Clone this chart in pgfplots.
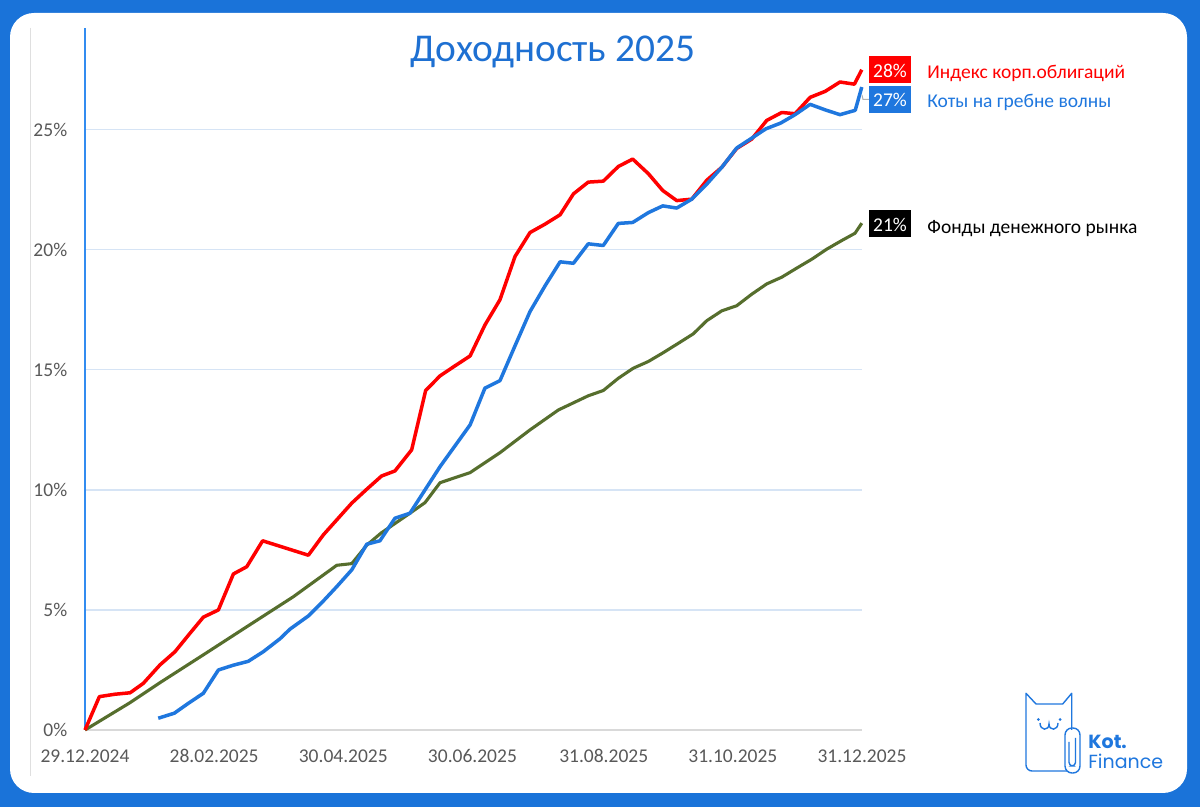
\documentclass[border=0pt]{standalone}
\usepackage{pgfplots}
\pgfplotsset{compat=1.18}
\usepackage{pgfplotstable}
\usepackage{fontspec}
\setmainfont{Carlito}
\newfontfamily\logofont{Poppins}
\definecolor{bgblue}{RGB}{26,115,217}
\definecolor{titleblue}{RGB}{30,112,210}
\definecolor{lblue}{RGB}{31,119,222}
\definecolor{lred}{RGB}{255,0,0}
\definecolor{lgreen}{RGB}{86,110,45}
\definecolor{gridblue}{RGB}{214,228,245}
\definecolor{axisblue}{RGB}{50,140,240}
\definecolor{tickgray}{RGB}{89,89,89}

\pgfplotstableread{
d v
0 0
6.8 1.39
14.2 1.49
21.3 1.55
27.5 1.94
35.4 2.71
42.5 3.26
49.6 4.03
55.9 4.70
63.0 5.00
70.1 6.50
76.4 6.80
83.9 7.88
105.5 7.28
112.6 8.13
119.6 8.82
126.0 9.45
133.1 10.03
140.1 10.58
146.4 10.79
154.3 11.67
160.9 14.14
167.7 14.75
174.8 15.17
181.9 15.58
188.9 16.87
196.0 17.92
203.1 19.72
210.2 20.72
217.3 21.07
224.4 21.46
230.7 22.33
237.7 22.82
244.8 22.86
251.9 23.47
258.7 23.78
266.1 23.17
272.9 22.47
279.5 22.05
286.6 22.11
293.7 22.90
300.8 23.44
307.8 24.22
314.9 24.61
322.0 25.39
329.1 25.72
335.4 25.67
342.5 26.35
349.6 26.60
356.6 26.99
363.4 26.90
366.9 27.50
}\redtab

\pgfplotstableread{
d v
34.6 0.49
42.2 0.70
48.8 1.11
55.9 1.53
63.0 2.50
70.1 2.70
77.1 2.86
84.2 3.26
92.1 3.80
96.8 4.20
105.5 4.75
111.8 5.30
118.9 5.97
126.0 6.67
133.1 7.74
139.3 7.88
146.4 8.82
153.5 9.03
160.6 10.00
167.7 10.97
174.8 11.84
181.9 12.71
188.9 14.24
196.0 14.55
203.1 16.00
210.2 17.43
217.3 18.50
224.4 19.50
230.7 19.44
237.7 20.25
244.8 20.18
251.9 21.10
258.7 21.14
266.1 21.55
272.9 21.83
279.5 21.74
286.6 22.11
293.7 22.74
300.8 23.44
307.8 24.24
314.9 24.65
321.6 25.04
328.6 25.28
335.4 25.63
342.5 26.06
349.6 25.83
356.6 25.63
363.8 25.81
366.9 26.78
}\bluetab

\pgfplotstableread{
d v
0 0
21.3 1.14
35.4 1.97
55.9 3.13
76.4 4.30
98.4 5.55
118.9 6.86
126.0 6.93
133.1 7.70
139.8 8.20
146.4 8.60
153.5 9.03
160.6 9.47
167.7 10.30
174.8 10.51
181.9 10.72
196.0 11.55
210.2 12.50
223.6 13.33
237.7 13.92
244.8 14.14
251.9 14.65
259.0 15.07
266.1 15.35
273.2 15.72
280.3 16.11
287.3 16.50
293.7 17.05
300.8 17.46
307.8 17.67
314.9 18.15
322.0 18.58
329.1 18.86
336.2 19.24
343.3 19.61
350.4 20.03
357.5 20.39
363.7 20.69
366.9 21.11
}\greentab

\begin{document}
\begin{tikzpicture}
\useasboundingbox (0,0) rectangle (600pt,403.5pt);
\fill[bgblue] (0,0) rectangle (600pt,403.5pt);
\begin{scope}[x=0.5pt,y=-0.5pt,shift={(0,403.5pt)}]
  \fill[white,rounded corners=12pt] (10,13) rectangle (1187,793);
  \draw[gray!25,line width=0.6pt] (30.5,28) -- (30.5,776);
\end{scope}

\begin{axis}[
  at={(42.5pt,38.5pt)}, anchor=south west,
  scale only axis, width=388.5pt, height=351pt,
  xmin=0, xmax=367, ymin=0, ymax=29.24,
  clip=false,
  axis lines=left,
  axis line style={-},
  x axis line style={draw=gray!30, line width=0.8pt},
  y axis line style={draw=axisblue, line width=0.7pt},
  major tick length=0pt,
  xtick={0,61,122,183,245,306,367},
  xticklabels={29.12.2024,28.02.2025,30.04.2025,30.06.2025,31.08.2025,31.10.2025,31.12.2025},
  ytick={0,5,10,15,20,25},
  yticklabels={0\%,5\%,10\%,15\%,20\%,25\%},
  ymajorgrids, grid style={gridblue, line width=0.6pt},
  tick label style={font=\fontsize{9.75}{11}\selectfont, text=tickgray},
  xticklabel style={anchor=base, inner sep=0pt, yshift=-16.2pt},
  yticklabel style={anchor=east, inner sep=0pt, xshift=-8.7pt},
]
\addplot[lgreen, line width=1.55pt, line join=round] table[x=d,y=v] {\greentab};
\addplot[lred, line width=1.75pt, line join=round] table[x=d,y=v] {\redtab};
\addplot[lblue, line width=1.75pt, line join=round] table[x=d,y=v] {\bluetab};
\end{axis}

\begin{scope}[x=0.5pt,y=-0.5pt,shift={(0,403.5pt)}]
  % title
  \node[anchor=base, text=titleblue, font=\fontsize{19.7}{22}\selectfont, inner sep=0pt] at (553,62) {Доходность 2025};
  % connector
  \draw[gray!60, line width=0.5pt] (862,95) -- (863,99.5) -- (869,99.5);
  % boxes
  \fill[lred] (869,56) rectangle (911,83.5);
  \fill[lblue] (869,86) rectangle (911,113);
  \fill[black] (869,210) rectangle (911,237.5);
  \node[anchor=base, text=white, font=\fontsize{9.75}{11}\selectfont, inner sep=0pt] at (890,78) {28\%};
  \node[anchor=base, text=white, font=\fontsize{9.75}{11}\selectfont, inner sep=0pt] at (890,107) {27\%};
  \node[anchor=base, text=white, font=\fontsize{9.75}{11}\selectfont, inner sep=0pt] at (890,231.7) {21\%};
  \node[anchor=base west, text=lred, font=\fontsize{9.75}{11}\selectfont, inner sep=0pt] at (927,78.3) {Индекс корп.облигаций};
  \node[anchor=base west, text=lblue, font=\fontsize{9.75}{11}\selectfont, inner sep=0pt] at (927,107.7) {Коты на гребне волны};
  \node[anchor=base west, text=black, font=\fontsize{9.75}{11}\selectfont, inner sep=0pt] at (927,233.3) {Фонды денежного рынка};
  % logo
  \draw[lblue, line width=0.7pt, line join=round]
     (1071.7,730) -- (1071.7,693.3) -- (1062.7,704) -- (1036,704) -- (1026,693.3)
     -- (1026,765) [rounded corners=3pt] -- (1026,771) -- (1067,771);
  \draw[lblue, line width=0.7pt, rounded corners=3.5pt] (1065,728) rectangle (1080,773);
  \draw[lblue, line width=0.7pt, rounded corners=1.8pt] (1069,742) -- (1069,766) -- (1075.5,766) -- (1075.5,738);
  \fill[lblue] (1038.3,719.5) circle (1.5);
  \fill[lblue] (1060,719.5) circle (1.5);
  \draw[lblue, line width=0.7pt] (1040,723) .. controls (1040,731) and (1049,731) .. (1049,724) .. controls (1049,731) and (1058,731) .. (1058,723);
  \node[anchor=base west, text=lblue, font=\logofont\bfseries\fontsize{9.5}{11}\selectfont, inner sep=0pt] at (1088,748.3) {Kot.};
  \node[anchor=base west, text=lblue, font=\logofont\fontsize{9.5}{11}\selectfont, inner sep=0pt] at (1088,769) {Finance};
\end{scope}
\end{tikzpicture}
\end{document}
